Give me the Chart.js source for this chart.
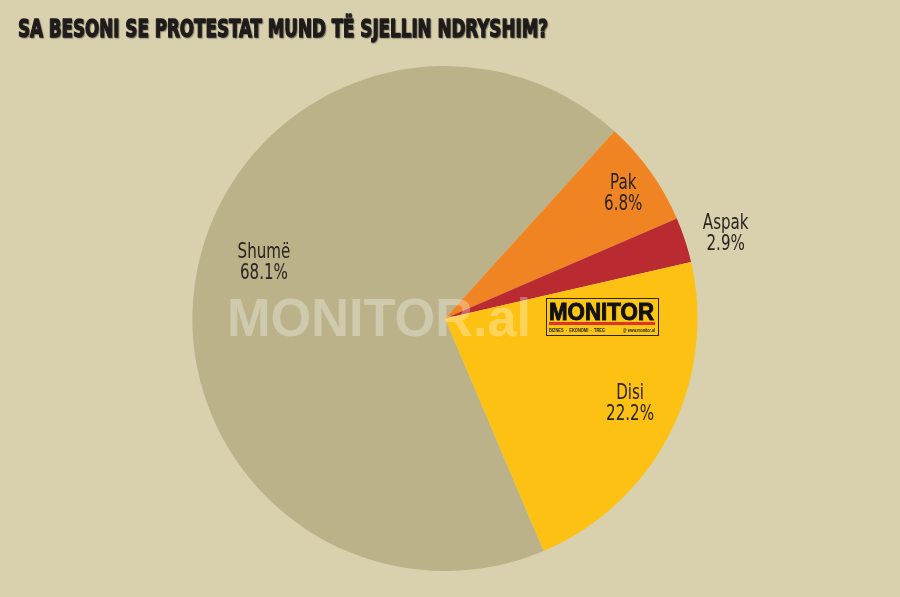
<!DOCTYPE html>
<html>
<head>
<meta charset="utf-8">
<script src="https://cdn.jsdelivr.net/npm/chart.js@4.4.1/dist/chart.umd.min.js"></script>
<style>
  html, body { margin: 0; padding: 0; background: #d9d1ad; }
  #wrap { width: 900px; height: 597px; }
</style>
</head>
<body>
<div id="wrap"><canvas id="pie" width="900" height="597"></canvas></div>
<script>
// data
const labels = ['Shumë', 'Pak', 'Aspak', 'Disi'];
const values = [68.1, 6.8, 2.9, 22.2];
const colors = ['#bbb28a', '#f08422', '#b92a31', '#fcc113'];
const title = 'SA BESONI SE PROTESTAT MUND TË SJELLIN NDRYSHIM?';

const NARROW = '"Liberation Sans Narrow", "DejaVu Sans Condensed", "Roboto Condensed", sans-serif';

// fit a text to a given width by squeezing it horizontally
function fitText(ctx, text, x, y, width, stroke) {
  const w = ctx.measureText(text).width;
  ctx.save();
  ctx.translate(x, y);
  ctx.scale(width / w, 1);
  if (stroke) ctx.strokeText(text, 0, 0);
  ctx.fillText(text, 0, 0);
  ctx.restore();
}

// centred text squeezed by a fixed factor
function squeezeText(ctx, text, x, y, k) {
  ctx.save();
  ctx.translate(x, y);
  ctx.scale(k, 1);
  ctx.fillText(text, 0, 0);
  ctx.restore();
}

const decorations = {
  id: 'decorations',
  afterDatasetsDraw(chart, args, opts) {
    const ctx = chart.ctx;
    const arcs = chart.getDatasetMeta(0).data;

    // watermark
    ctx.save();
    ctx.fillStyle = 'rgba(255,255,255,0.3)';
    ctx.font = 'bold 53px "Liberation Sans", Arial, sans-serif';
    ctx.textBaseline = 'alphabetic';
    fitText(ctx, 'MONITOR.al', 227, 336, 304);
    ctx.restore();

    // logo box
    ctx.save();
    ctx.fillStyle = '#fcc614';
    ctx.fillRect(546, 298, 113, 38);
    ctx.strokeStyle = '#2a2318';
    ctx.lineWidth = 1;
    ctx.strokeRect(546.5, 298.5, 112, 37);
    ctx.fillStyle = '#111';
    ctx.strokeStyle = '#111';
    ctx.lineWidth = 1;
    ctx.font = 'bold 24px "Liberation Sans", Arial, sans-serif';
    fitText(ctx, 'MONITOR', 549, 320, 105, true);
    ctx.fillStyle = '#e3312d';
    ctx.fillRect(549, 322, 106, 3);
    ctx.fillStyle = '#222';
    ctx.font = 'bold 5px "Liberation Sans", Arial, sans-serif';
    fitText(ctx, 'BIZNES  ·  EKONOMI  ·  TREG', 549, 332, 56);
    fitText(ctx, '@ www.monitor.al', 623, 332, 32);
    ctx.restore();

    // slice labels
    ctx.save();
    ctx.fillStyle = '#2a2420';
    ctx.font = '21px ' + NARROW;
    ctx.textAlign = 'center';
    ctx.textBaseline = 'alphabetic';
    arcs.forEach((arc, i) => {
      const p = arc.getProps(['x', 'y', 'startAngle', 'endAngle', 'outerRadius']);
      const place = opts.placement[i];
      const a = (p.startAngle + p.endAngle) / 2 + place.da * Math.PI / 180;
      const r = p.outerRadius * place.r;
      const cx = p.x + Math.cos(a) * r;
      const cy = p.y + Math.sin(a) * r;
      squeezeText(ctx, labels[i], cx, cy - 2, 0.8);
      squeezeText(ctx, values[i].toFixed(1) + '%', cx, cy + 19, 0.8);
    });
    ctx.restore();

    // title
    ctx.save();
    ctx.fillStyle = '#1f1b1a';
    ctx.strokeStyle = '#1f1b1a';
    ctx.lineWidth = 1.3;
    ctx.lineJoin = 'round';
    ctx.shadowColor = 'rgba(0,0,0,0.3)';
    ctx.shadowOffsetX = 1;
    ctx.shadowOffsetY = 1;
    ctx.shadowBlur = 1;
    ctx.font = 'bold 25px ' + NARROW;
    fitText(ctx, title, 18, 37, 530, true);
    ctx.restore();
  }
};

new Chart(document.getElementById('pie'), {
  type: 'pie',
  data: {
    labels: labels,
    datasets: [{
      data: values,
      backgroundColor: colors,
      borderWidth: 0
    }]
  },
  options: {
    responsive: false,
    animation: false,
    devicePixelRatio: 1,
    rotation: 157,
    layout: { padding: { top: 66, bottom: 26, left: 0, right: 10 } },
    plugins: {
      legend: { display: false },
      tooltip: { enabled: false },
      decorations: {
        placement: [
          { r: 0.753, da: 8.2 },
          { r: 0.868, da: 0 },
          { r: 1.164, da: 0.9 },
          { r: 0.802, da: -3.1 }
        ]
      }
    }
  },
  plugins: [decorations]
});
</script>
</body>
</html>
